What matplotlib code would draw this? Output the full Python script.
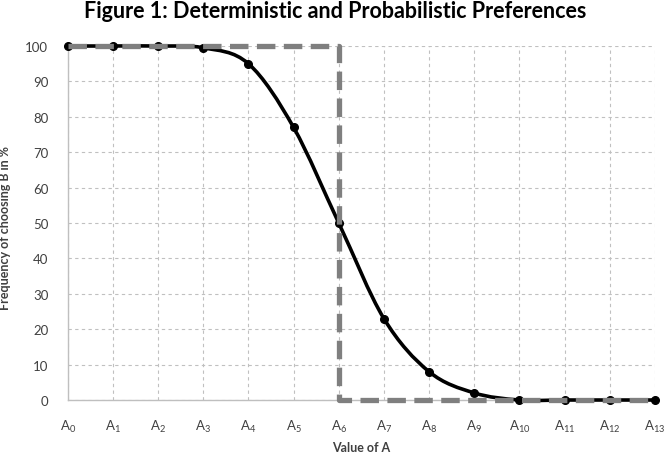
import matplotlib.pyplot as plt
import numpy as np
from matplotlib.path import Path
from matplotlib.patches import PathPatch

plt.rcParams['font.family'] = ['Lato', 'DejaVu Sans']
plt.rcParams['mathtext.fontset'] = 'custom'
plt.rcParams['mathtext.rm'] = 'Lato'
plt.rcParams['mathtext.it'] = 'Lato'

# Data
labels = ['A' + f'$_{{{i}}}$' for i in range(14)]
probabilistic = [100, 100, 100, 99.5, 95, 77, 50, 23, 8, 2, 0, 0, 0, 0]
deterministic_x = [0, 6, 6, 13]
deterministic_y = [100, 100, 0, 0]


# Excel-style smoothed line: cubic Bezier segments through the points
def smooth_path(xs, ys, t=1 / 6):
    pts = np.column_stack([xs, ys]).astype(float)
    n = len(pts)
    verts = [pts[0]]
    codes = [Path.MOVETO]
    for i in range(n - 1):
        p0 = pts[i - 1] if i > 0 else pts[i]
        p1 = pts[i]
        p2 = pts[i + 1]
        p3 = pts[i + 2] if i + 2 < n else pts[i + 1]
        c1 = p1 + (p2 - p0) * t
        c2 = p2 - (p3 - p1) * t
        verts += [c1, c2, p2]
        codes += [Path.CURVE4] * 3
    return Path(verts, codes)


fig = plt.figure(figsize=(6.71, 4.56), dpi=100)
ax = fig.add_axes([0.101, 0.1206, 0.875, 0.7763])

x = np.arange(len(probabilistic))
ax.add_patch(PathPatch(smooth_path(x, probabilistic), facecolor='none',
                       edgecolor='black', linewidth=2.6, zorder=3, clip_on=False))
ax.plot(x, probabilistic, 'o', color='black', markersize=5.5, zorder=4, clip_on=False)
ax.plot(deterministic_x, deterministic_y, color='#7f7f7f', linewidth=3.8,
        dashes=(3.5, 1.6), zorder=5, clip_on=False)

ax.set_xlim(0, 13)
ax.set_ylim(0, 100)
ax.set_xticks(x)
ax.set_xticklabels(labels, fontsize=9.5, color='#404040')
ax.set_yticks(np.arange(0, 101, 10))
ax.tick_params(axis='y', labelsize=9.5, labelcolor='#404040', length=0, pad=14)
ax.tick_params(axis='x', length=0, pad=13)
ax.grid(True, linestyle=(0, (3, 3)), color='#c0c0c0', linewidth=0.8)
for s in ['top', 'right']:
    ax.spines[s].set_visible(False)
for s in ['left', 'bottom']:
    ax.spines[s].set_color('#bfbfbf')
    ax.spines[s].set_linewidth(1.0)

ax.set_xlabel('Value of A', fontsize=9, fontweight='bold', color='#404040', labelpad=5)
fig.text(0.008, 0.5, 'Frequency of choosing B in %', rotation=90, fontsize=9,
         fontweight='bold', color='#404040', ha='center', va='center')
fig.suptitle('Figure 1: Deterministic and Probabilistic Preferences', x=0.5, y=0.998,
             fontsize=15.5, fontweight='bold')

fig.savefig('out.png', dpi=100)
